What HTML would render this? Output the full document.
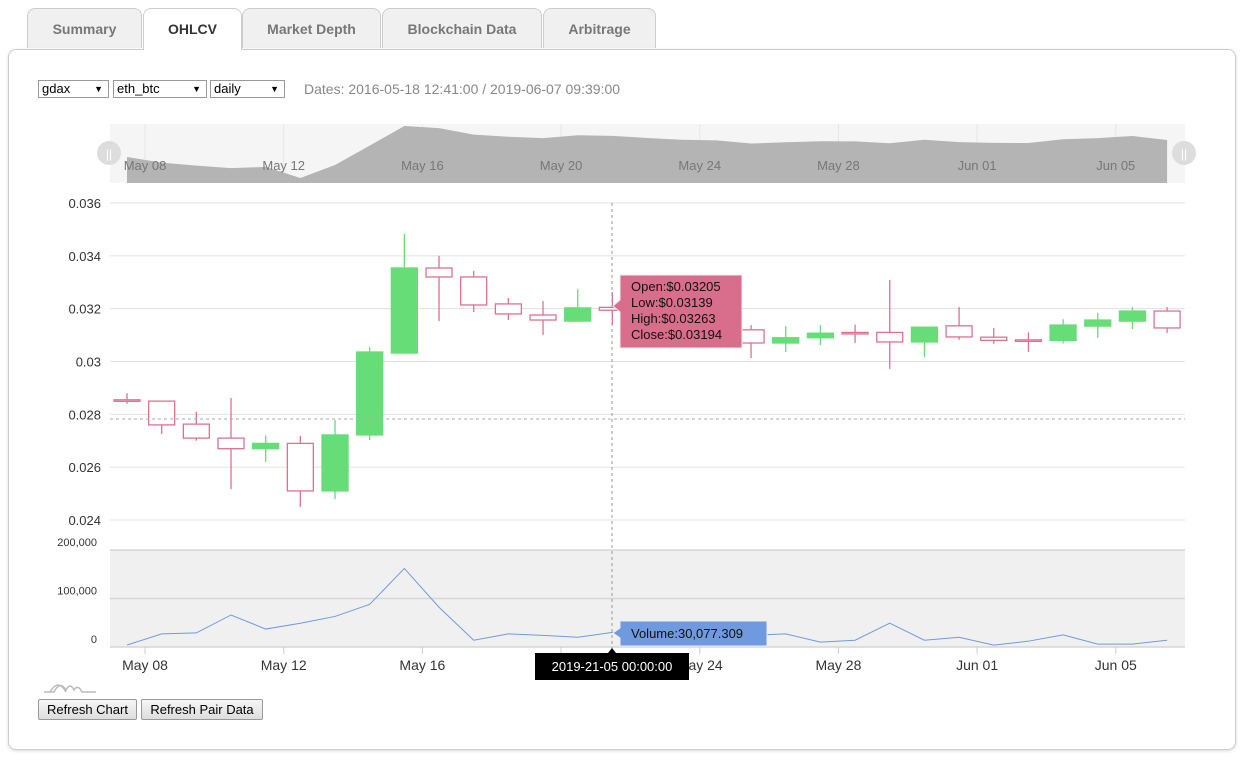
<!DOCTYPE html>
<html><head><meta charset="utf-8"><style>
body{margin:0;width:1244px;height:762px;background:#fff;font-family:"Liberation Sans",sans-serif;position:relative;overflow:hidden}
.tab{position:absolute;top:8px;height:40px;background:#f0f0f0;border:1px solid #ccc;border-bottom:none;border-radius:8px 8px 0 0;box-sizing:border-box;font-weight:bold;font-size:14px;color:#777;text-align:center;line-height:40px}
.tab.active{background:#fff;color:#333;height:42px;z-index:2}
#panel{position:absolute;left:8px;top:49px;width:1228px;height:701px;border:1px solid #ccc;border-radius:8px;box-sizing:border-box;box-shadow:0 1px 3px rgba(0,0,0,.15)}
.sel{position:absolute;top:80px;height:18px;border:1px solid #999;box-sizing:border-box;font-size:13px;line-height:16px;padding-left:3px;background:#fff}
.sel span{position:absolute;right:5px;font-size:9px}
.btn{position:absolute;top:699px;height:21px;border:1px solid #999;background:linear-gradient(#f6f6f6,#ddd);font-size:13px;line-height:19px;text-align:center;box-sizing:border-box;border-radius:2px}
</style></head><body>
<div class="tab" style="left:27px;width:115px">Summary</div>
<div class="tab active" style="left:143px;width:99px">OHLCV</div>
<div class="tab" style="left:242px;width:139px">Market Depth</div>
<div class="tab" style="left:382px;width:160px">Blockchain Data</div>
<div class="tab" style="left:543px;width:113px">Arbitrage</div>
<div id="panel"></div>
<div class="sel" style="left:38px;width:71px">gdax<span>▼</span></div>
<div class="sel" style="left:113px;width:94px">eth_btc<span>▼</span></div>
<div class="sel" style="left:210px;width:75px">daily<span>▼</span></div>
<div style="position:absolute;left:304px;top:81px;font-size:14px;color:#888">Dates: 2016-05-18 12:41:00 / 2019-06-07 09:39:00</div>
<div class="btn" style="left:38px;width:99px">Refresh Chart</div>
<div class="btn" style="left:141px;width:122px">Refresh Pair Data</div>
<svg id="c" width="1244" height="762" style="position:absolute;left:0;top:0" xmlns="http://www.w3.org/2000/svg"></svg>
<script>
const opens =[0.02855,0.0285,0.02763,0.0271,0.0267,0.0269,0.0251,0.02722,0.03032,0.03354,0.0332,0.03218,0.03176,0.03153,0.03205,0.03194,0.0316,0.0313,0.0312,0.0307,0.0309,0.0311,0.0311,0.03074,0.03135,0.03092,0.03082,0.0308,0.03134,0.03153,0.03191];
const closes=[0.0285,0.0276,0.0271,0.0267,0.0269,0.0251,0.02722,0.03036,0.03354,0.0332,0.03214,0.0318,0.03157,0.03203,0.03194,0.0316,0.0313,0.0312,0.0307,0.0309,0.03107,0.03105,0.03074,0.0313,0.03093,0.0308,0.03078,0.03138,0.03157,0.03191,0.03127];
const highs =[0.0288,0.0285,0.0281,0.02862,0.0272,0.02718,0.02779,0.03055,0.03483,0.034,0.03343,0.0324,0.03229,0.03274,0.03263,0.0322,0.0319,0.0316,0.03138,0.03134,0.03138,0.0314,0.03309,0.0313,0.03206,0.03127,0.0311,0.0316,0.03184,0.03206,0.03206];
const lows  =[0.0284,0.02726,0.027,0.02517,0.0262,0.02449,0.02479,0.02703,0.0303,0.03153,0.03187,0.03157,0.031,0.03153,0.03139,0.0313,0.031,0.0309,0.03013,0.03036,0.03062,0.0307,0.02972,0.03017,0.03082,0.03067,0.03036,0.03068,0.0309,0.03123,0.03108];
const volumes=[4000,27000,29000,66000,37000,49000,63000,88000,162000,82000,14000,27000,24000,20000,30077,22000,18000,20000,24000,27000,10000,14000,49000,14000,20000,4000,12000,25000,6000,6000,14000];
const priceTicks=[0.024,0.026,0.028,0.030,0.032,0.034,0.036];
const priceTickLabels=["0.024","0.026","0.028","0.03","0.032","0.034","0.036"];
const volTicks=[0,100000,200000];
const volTickLabels=["0","100,000","200,000"];
const dateLabels=["May 08","May 12","May 16","May 20","May 24","May 28","Jun 01","Jun 05"];
const dateIdx=[0.52,4.52,8.52,12.52,16.52,20.52,24.52,28.52];

const svg=document.getElementById('c');const NS="http://www.w3.org/2000/svg";
function mk(t,a,p){const e=document.createElementNS(NS,t);for(const k in a)e.setAttribute(k,a[k]);(p||svg).appendChild(e);return e;}
const X=i=>127+i*34.67;
const Y=v=>203+(0.036-v)*26417;
const VY=v=>647-v*0.000485;
const cMin=Math.min(...closes),cMax=Math.max(...closes);
const NY=v=>178-(v-cMin)/(cMax-cMin)*52;

// navigator
let e=mk('rect',{x:110,y:124,width:1075,height:59,fill:'#f5f5f5'});


dateIdx.forEach((d,k)=>{let l=mk('line',{x1:X(d),x2:X(d),y1:124,y2:183,stroke:'#e6e6e6'});});
let pts=closes.map((c,i)=>X(i)+','+NY(c)).join(' ');
e=mk('polygon',{points:X(0)+',183 '+pts+' '+X(closes.length-1)+',183',fill:'#b4b4b4'});


dateLabels.forEach((s,k)=>{let t=mk('text',{x:X(dateIdx[k]),y:170,'text-anchor':'middle','font-size':13,fill:'#777'});t.textContent=s;});
[109,1184].forEach((x,k)=>{let h=mk('circle',{cx:x,cy:153,r:12,fill:'#ddd'});
let t=mk('text',{x:x,y:158,'text-anchor':'middle','font-size':12,fill:'#fff'});t.textContent='||';});

// price grid
priceTicks.forEach((v,k)=>{let l=mk('line',{x1:110,x2:1185,y1:Y(v),y2:Y(v),stroke:'#e0e0e0'});
let t=mk('text',{x:101,y:Y(v)+5,'text-anchor':'end','font-size':13,fill:'#333'});t.textContent=priceTickLabels[k];});

// volume panel
e=mk('rect',{x:110,y:550,width:1075,height:97,fill:'#f0f0f0'});


volTicks.forEach((v,k)=>{let l=mk('line',{x1:110,x2:1185,y1:VY(v),y2:VY(v),stroke:'#d6d6d6','stroke-width':1.5});
let t=mk('text',{x:97,y:VY(v)-4,'text-anchor':'end','font-size':11,fill:'#333'});t.textContent=volTickLabels[k];});
e=mk('polyline',{points:volumes.map((v,i)=>X(i)+','+VY(v)).join(' '),fill:'none',stroke:'#6f9ae0','stroke-width':1});



// x axis
dateIdx.forEach((d,k)=>{let l=mk('line',{x1:X(d),x2:X(d),y1:647,y2:654,stroke:'#ccc'});
let t=mk('text',{x:X(d),y:670,'text-anchor':'middle','font-size':14,fill:'#333'});t.textContent=dateLabels[k];});

// candles
opens.forEach((o,i)=>{const c=closes[i],up=c>o,col=up?'#66dd77':'#e07090';
let w=mk('line',{x1:X(i),x2:X(i),y1:Y(highs[i]),y2:Y(lows[i]),stroke:col,'stroke-width':1.3});


const top=Y(Math.max(o,c)),h=Math.max(1.5,Math.abs(Y(o)-Y(c)));
let b=mk('rect',{x:X(i)-13,y:top,width:26,height:h,fill:up?'#66dd77':'#fff',stroke:col,'stroke-width':1.3});

});

// crosshair
e=mk('line',{x1:110,x2:1185,y1:419,y2:419,stroke:'#aaa','stroke-dasharray':'3,3'});


e=mk('line',{x1:612,x2:612,y1:203,y2:655,stroke:'#999','stroke-dasharray':'3,3'});



// tooltips
e=mk('path',{d:'M620,275 h122 v73 h-122 v-36 l-7,-6 l7,-6 z',fill:'#d96d8c',stroke:'#eee'});


["Open:$0.03205","Low:$0.03139","High:$0.03263","Close:$0.03194"].forEach((s,k)=>{let t=mk('text',{x:631,y:291+k*16,'font-size':13,fill:'#111'});t.textContent=s;});
e=mk('path',{d:'M620,621 h147 v25 h-147 v-8 l-7,-5 l7,-5 z',fill:'#6f9ae0',stroke:'#eee'});


let t=mk('text',{x:631,y:638,'font-size':13,fill:'#111'});t.textContent='Volume:30,077.309';


e=mk('path',{d:'M535,653 h73 l4,-5 l4,5 h73 v27 h-154 z',fill:'#000'});


t=mk('text',{x:612,y:671,'text-anchor':'middle','font-size':13,fill:'#fff'});t.textContent='2019-21-05 00:00:00';



// mini icon
e=mk('path',{d:'M44,692 h10 q6,-12 12,-2 q4,-8 8,0 q4,-6 8,2 h14 M50,692 q8,-14 16,0',fill:'none',stroke:'#bbb','stroke-width':1.5});


</script>
</body></html>
